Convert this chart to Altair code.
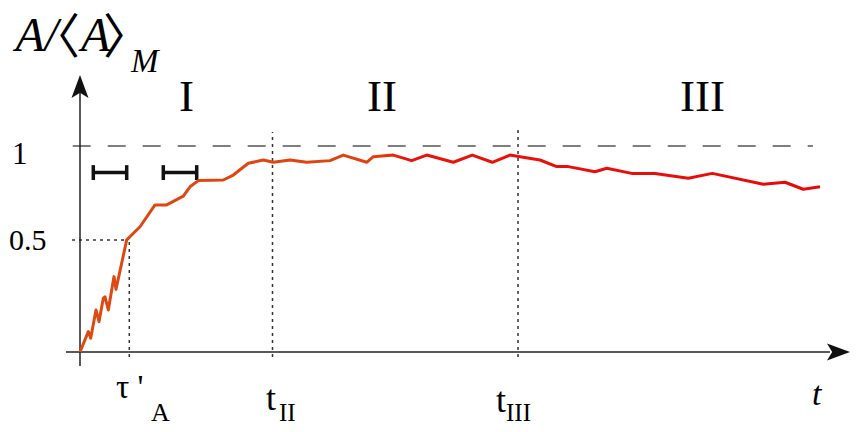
import altair as alt
import pandas as pd

# ---- data (t in arbitrary time units, A in units of <A>_M) ----
curve_t = [0.0, 0.83, 1.07, 1.6, 1.9, 2.33, 2.5, 2.83, 3.4, 3.6, 4.67, 6.0, 7.5, 8.67,
           10.33, 11.0, 11.83, 14.33, 15.33, 16.83, 18.33, 19.33, 21.0, 22.67, 25.0,
           26.33, 28.67, 29.33, 31.33, 33.17, 34.67, 37.33, 39.23, 41.23, 43.0, 44.0,
           46.0, 47.67, 48.83, 51.5, 52.67, 55.17, 57.5, 60.83, 63.23, 68.33, 70.5,
           72.33, 74.0]
curve_a = [0.0, 0.099, 0.067, 0.204, 0.147, 0.261, 0.268, 0.204, 0.366, 0.304, 0.544,
           0.608, 0.714, 0.714, 0.757, 0.802, 0.832, 0.835, 0.859, 0.916, 0.932, 0.921,
           0.932, 0.921, 0.929, 0.956, 0.921, 0.948, 0.956, 0.929, 0.956, 0.921, 0.956,
           0.921, 0.956, 0.948, 0.932, 0.900, 0.900, 0.875, 0.892, 0.867, 0.867, 0.843,
           0.867, 0.814, 0.824, 0.790, 0.802]

tau_a = 4.93
t_II = 19.25
t_III = 43.8
tau_level = 0.544

# error bars (x-start, x-end, level)
err_x1 = [1.33, 8.33]
err_x2 = [4.67, 11.67]
err_y = 0.871
err_cap = 0.036

# text labels
it_text = ["A/", "A", "M", "t"]
it_x = [-6.45, 0.1, 5.1, 73.2]
it_y = [1.4612, 1.4612, 1.359, -0.2573]
it_size = [48, 48, 33, 34]

br_text = ["〈", "〉"]
br_x = [-4.8, 2.3]
br_y = [1.4515, 1.4515]
br_size = [48, 48]

rm_text = ["1", "0.5", "I", "II", "III", "τ '", "A", "t", "II", "t", "III"]
rm_x = [-6.8, -7.1, 9.9, 28.7, 60.0, 3.6, 7.1, 18.6, 19.9, 41.6, 42.6]
rm_y = [0.9126, 0.4951, 1.1699, 1.1699, 1.1699, -0.2233, -0.3350, -0.2816, -0.3350,
        -0.2913, -0.3350]
rm_size = [31, 30, 45, 45, 45, 33, 26, 36, 25, 36, 25]

XDOM = [-7.2, 77.0]
YDOM = [-0.34951, 1.66990]

xs = alt.Scale(domain=XDOM, nice=False, zero=False)
ys = alt.Scale(domain=YDOM, nice=False, zero=False)


def X(f="x"):
    return alt.X(f"{f}:Q", scale=xs, axis=None)


def Y(f="y"):
    return alt.Y(f"{f}:Q", scale=ys, axis=None)


curve = pd.DataFrame({"x": curve_t, "y": curve_a})

axes_df = pd.DataFrame({
    "x": [0.0, -1.4], "x2": [0.0, 75.0],
    "y": [-0.068, 0.0], "y2": [1.262, 0.0],
})
dashed_df = pd.DataFrame({"x": [-0.73], "x2": [73.3], "y": [1.0], "y2": [1.0]})
dotted_df = pd.DataFrame({
    "x": [tau_a, t_II, t_III, -0.8],
    "x2": [tau_a, t_II, t_III, 4.67],
    "y": [-0.024, -0.024, -0.024, tau_level],
    "y2": [tau_level, 1.068, 1.078, tau_level],
})
err_rows = []
for a, b in zip(err_x1, err_x2):
    err_rows.append({"x": a, "x2": b, "y": err_y, "y2": err_y})
    err_rows.append({"x": a, "x2": a, "y": err_y - err_cap, "y2": err_y + err_cap})
    err_rows.append({"x": b, "x2": b, "y": err_y - err_cap, "y2": err_y + err_cap})
err_df = pd.DataFrame(err_rows)

arrow_df = pd.DataFrame({"x": [0.0, 75.85], "y": [1.2888, 0.0], "ang": [0, 90]})
arrow_path = "M0,-1L0.74,1L0,0.55L-0.74,1Z"

it_df = pd.DataFrame({"x": it_x, "y": it_y, "t": it_text, "s": it_size})
br_df = pd.DataFrame({"x": br_x, "y": br_y, "t": br_text, "s": br_size})
rm_df = pd.DataFrame({"x": rm_x, "y": rm_y, "t": rm_text, "s": rm_size})


def rules(df, **kw):
    return alt.Chart(df).mark_rule(**kw).encode(
        x=X(), x2="x2:Q", y=Y(), y2="y2:Q")


grad = alt.LinearGradient(
    gradient="linear",
    stops=[
        alt.GradientStop(color="#dc4a12", offset=0.0),
        alt.GradientStop(color="#e0420f", offset=0.40),
        alt.GradientStop(color="#e8140a", offset=0.44),
        alt.GradientStop(color="#e60a0a", offset=1.0),
    ],
    x1=0, x2=1, y1=0, y2=0,
)

line = alt.Chart(curve).mark_line(color=grad, strokeWidth=3, strokeJoin="round").encode(
    x=X(), y=Y())

axes = rules(axes_df, color="#222222", strokeWidth=1.5)
dashed = rules(dashed_df, color="#555555", strokeWidth=1.5, strokeDash=[18, 17])
dotted = rules(dotted_df, color="#333333", strokeWidth=1.5, strokeDash=[3, 4])
errs = rules(err_df, color="#111111", strokeWidth=3.5)

arrows = alt.Chart(arrow_df).mark_point(
    shape=arrow_path, filled=True, size=529, color="#111111", opacity=1
).encode(x=X(), y=Y(), angle=alt.Angle("ang:Q", scale=None))

it_txt = alt.Chart(it_df).mark_text(
    font="Liberation Serif", fontStyle="italic", align="left",
    baseline="alphabetic", color="#000000"
).encode(x=X(), y=Y(), text="t:N", size=alt.Size("s:Q", scale=None))

br_txt = alt.Chart(br_df).mark_text(
    font="Noto Sans CJK JP", align="left", baseline="alphabetic", color="#000000"
).encode(x=X(), y=Y(), text="t:N", size=alt.Size("s:Q", scale=None))

rm_txt = alt.Chart(rm_df).mark_text(
    font="Liberation Serif", align="left", baseline="alphabetic", color="#000000"
).encode(x=X(), y=Y(), text="t:N", size=alt.Size("s:Q", scale=None))

chart = alt.layer(dashed, dotted, axes, arrows, errs, line, it_txt, br_txt, rm_txt).properties(
    width=842, height=416, padding=0, autosize="none"
).configure_view(stroke=None)

chart.save("out.html", embed_options={"renderer": "svg", "actions": False})
